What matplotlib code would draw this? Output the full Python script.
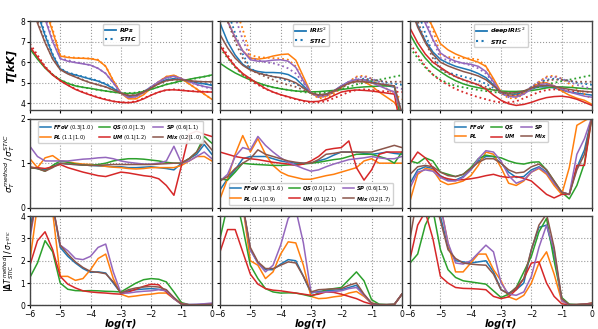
import numpy as np
import matplotlib.pyplot as plt

LOGTAU = np.linspace(-6, 0, 25)
SERIES = ["FFoV", "PL", "QS", "UM", "SP", "Mix"]
COLORS = {"FFoV": "#1f77b4", "PL": "#ff7f0e", "QS": "#2ca02c",
          "UM": "#d62728", "SP": "#9467bd", "Mix": "#8c564b"}
METHODS = ["RPs", "IRIS^2", "deepIRIS^2"]

# temperature [kK], STIC reference (dotted)
T_STIC = {
    "FFoV": [9.8, 8.5, 7.4, 6.4, 5.7, 5.5, 5.4, 5.3, 5.2, 5.1, 4.95, 4.75, 4.5, 4.35, 4.4, 4.55, 4.8, 5.0, 5.15, 5.2, 5.15, 5.1, 5.0, 4.95, 4.9],
    "PL": [11, 9.8, 8.7, 7.6, 6.35, 6.25, 6.22, 6.2, 6.18, 6.12, 5.8, 5.1, 4.5, 4.25, 4.25, 4.45, 4.75, 5.05, 5.3, 5.35, 5.2, 4.95, 4.7, 4.45, 4.2],
    "QS": [6.7, 6.2, 5.75, 5.4, 5.15, 4.98, 4.85, 4.78, 4.72, 4.65, 4.6, 4.55, 4.5, 4.5, 4.52, 4.6, 4.7, 4.8, 4.92, 5.0, 5.08, 5.15, 5.22, 5.3, 5.37],
    "UM": [6.9, 6.35, 5.8, 5.4, 5.1, 4.9, 4.7, 4.55, 4.42, 4.3, 4.2, 4.1, 4.05, 4.05, 4.1, 4.25, 4.4, 4.55, 4.65, 4.68, 4.65, 4.6, 4.58, 4.57, 4.55],
    "SP": [10.5, 9.3, 8.2, 7.1, 6.2, 6.1, 6.0, 5.95, 5.85, 5.7, 5.45, 5.0, 4.5, 4.3, 4.35, 4.55, 4.8, 5.05, 5.25, 5.3, 5.2, 5.05, 4.9, 4.8, 4.7],
    "Mix": [9.2, 8.0, 7.0, 6.2, 5.65, 5.45, 5.3, 5.15, 5.0, 4.9, 4.8, 4.65, 4.5, 4.4, 4.4, 4.55, 4.75, 4.95, 5.1, 5.15, 5.15, 5.1, 5.05, 5.05, 5.05],
}

T_RPS = {
    "FFoV": [9.7, 8.4, 7.3, 6.35, 5.68, 5.48, 5.38, 5.28, 5.18, 5.08, 4.93, 4.73, 4.5, 4.33, 4.38, 4.55, 4.8, 5.0, 5.15, 5.2, 5.15, 5.08, 5.0, 4.95, 4.88],
    "PL": [11, 9.7, 8.6, 7.5, 6.3, 6.23, 6.2, 6.19, 6.17, 6.1, 5.8, 5.1, 4.5, 4.22, 4.22, 4.42, 4.75, 5.05, 5.3, 5.37, 5.2, 4.95, 4.7, 4.45, 4.2],
    "QS": [6.65, 6.15, 5.72, 5.38, 5.14, 4.97, 4.85, 4.78, 4.73, 4.66, 4.6, 4.55, 4.5, 4.48, 4.5, 4.58, 4.68, 4.8, 4.92, 5.0, 5.1, 5.17, 5.24, 5.3, 5.38],
    "UM": [6.75, 6.25, 5.75, 5.38, 5.1, 4.88, 4.68, 4.53, 4.4, 4.28, 4.18, 4.1, 4.05, 4.03, 4.08, 4.22, 4.4, 4.55, 4.65, 4.66, 4.63, 4.6, 4.57, 4.56, 4.55],
    "SP": [10.3, 9.1, 8.1, 7.0, 6.17, 6.05, 5.98, 5.92, 5.86, 5.7, 5.45, 5.0, 4.5, 4.28, 4.32, 4.52, 4.8, 5.05, 5.25, 5.32, 5.2, 5.05, 4.92, 4.82, 4.75],
    "Mix": [9.1, 7.9, 6.95, 6.15, 5.64, 5.43, 5.28, 5.13, 5.0, 4.9, 4.8, 4.65, 4.5, 4.38, 4.4, 4.55, 4.75, 4.95, 5.1, 5.15, 5.15, 5.1, 5.07, 5.05, 5.05],
}

T_IRIS = {
    "FFoV": [7.9, 7.0, 6.35, 5.9, 5.65, 5.55, 5.5, 5.5, 5.48, 5.4, 5.2, 4.85, 4.5, 4.4, 4.45, 4.6, 4.85, 5.05, 5.15, 5.15, 5.05, 4.95, 4.85, 4.8, 3.5],
    "PL": [9.5, 8.0, 7.2, 6.55, 6.2, 6.15, 6.2, 6.3, 6.37, 6.4, 6.1, 5.3, 4.5, 4.3, 4.35, 4.55, 4.8, 5.0, 5.1, 5.05, 4.85, 4.55, 4.3, 4.05, 3.5],
    "QS": [5.95, 5.7, 5.48, 5.3, 5.14, 5.0, 4.88, 4.78, 4.71, 4.65, 4.6, 4.58, 4.56, 4.57, 4.6, 4.63, 4.67, 4.72, 4.77, 4.8, 4.82, 4.84, 4.85, 4.85, 3.0],
    "UM": [6.8, 6.25, 5.8, 5.45, 5.2, 4.95, 4.72, 4.55, 4.42, 4.32, 4.22, 4.13, 4.08, 4.1, 4.2, 4.38, 4.55, 4.62, 4.65, 4.63, 4.6, 4.55, 4.5, 4.45, 2.5],
    "SP": [9.3, 8.0, 7.2, 6.55, 6.12, 6.05, 6.05, 6.1, 6.12, 6.05, 5.75, 5.1, 4.5, 4.35, 4.4, 4.6, 4.85, 5.05, 5.15, 5.15, 5.0, 4.85, 4.7, 4.55, 3.5],
    "Mix": [7.35, 6.7, 6.2, 5.85, 5.62, 5.48, 5.38, 5.3, 5.25, 5.15, 5.0, 4.75, 4.5, 4.42, 4.45, 4.6, 4.8, 4.98, 5.05, 5.05, 5.0, 4.95, 4.9, 4.85, 3.5],
}

T_DEEP = {
    "FFoV": [8.8, 7.8, 7.05, 6.5, 6.14, 5.95, 5.8, 5.7, 5.6, 5.45, 5.25, 4.9, 4.55, 4.45, 4.45, 4.55, 4.7, 4.8, 4.8, 4.75, 4.65, 4.55, 4.5, 4.45, 4.4],
    "PL": [10.5, 9.3, 8.4, 7.7, 6.9, 6.6, 6.4, 6.25, 6.12, 6.0, 5.8, 5.2, 4.55, 4.4, 4.35, 4.5, 4.75, 4.98, 5.0, 4.85, 4.6, 4.4, 4.25, 4.15, 3.95],
    "QS": [7.35, 6.7, 6.2, 5.8, 5.54, 5.3, 5.1, 4.95, 4.84, 4.76, 4.7, 4.65, 4.6, 4.58, 4.58, 4.6, 4.62, 4.68, 4.75, 4.8, 4.8, 4.78, 4.75, 4.72, 4.7],
    "UM": [7.65, 6.95, 6.4, 6.0, 5.75, 5.5, 5.3, 5.15, 5.03, 4.9, 4.7, 4.4, 4.15, 3.98, 3.9, 3.95, 4.05, 4.18, 4.28, 4.33, 4.35, 4.3, 4.2, 4.05, 3.9],
    "SP": [10.0, 8.9, 7.9, 7.1, 6.45, 6.2, 6.05, 5.95, 5.9, 5.8, 5.55, 5.05, 4.5, 4.35, 4.3, 4.45, 4.7, 4.92, 4.95, 4.85, 4.7, 4.55, 4.45, 4.35, 4.3],
    "Mix": [8.7, 7.7, 6.95, 6.4, 6.0, 5.82, 5.68, 5.55, 5.45, 5.33, 5.15, 4.85, 4.55, 4.5, 4.52, 4.6, 4.75, 4.85, 4.87, 4.82, 4.75, 4.68, 4.62, 4.58, 4.55],
}

# sigma ratio
S_RPS = {
    "FFoV": [0.9, 0.88, 0.85, 0.92, 1.0, 0.98, 0.97, 0.96, 0.95, 0.94, 0.93, 0.92, 0.92, 0.9, 0.9, 0.91, 0.92, 0.9, 0.88, 0.85, 1.0, 1.1, 1.2, 1.42, 1.2],
    "PL": [1.1, 0.9, 1.12, 1.17, 1.05, 1.03, 1.0, 0.98, 0.97, 0.95, 0.93, 0.91, 0.9, 0.88, 0.87, 0.88, 0.9, 0.9, 0.9, 0.9, 0.95, 1.05, 1.15, 1.15, 1.05],
    "QS": [0.9, 0.88, 0.82, 0.95, 1.05, 1.02, 0.98, 0.96, 0.95, 0.97, 1.0, 1.05, 1.08, 1.1, 1.1, 1.09, 1.07, 1.05, 1.02, 1.0, 1.0, 1.1, 1.25, 1.6, 1.45],
    "UM": [0.9, 0.9, 0.88, 0.92, 0.97, 0.9, 0.85, 0.8, 0.76, 0.72, 0.7, 0.75, 0.8, 0.78, 0.75, 0.72, 0.7, 0.65, 0.5, 0.28, 0.95, 1.65, 1.72, 1.65, 1.6],
    "SP": [1.38, 1.15, 1.05, 1.05, 1.05, 1.05, 1.07, 1.09, 1.1, 1.12, 1.13, 1.1, 1.05, 1.02, 1.0, 0.98, 0.98, 1.0, 1.05, 1.38, 1.0, 1.05, 1.15, 1.25, 1.1],
    "Mix": [0.92, 0.88, 0.82, 0.9, 1.0, 0.98, 0.97, 0.96, 0.95, 0.95, 0.96, 0.97, 0.97, 0.97, 0.97, 0.97, 0.97, 0.98, 0.99, 1.0, 1.0, 1.1, 1.25, 1.5, 1.3],
}
S_IRIS = {
    "FFoV": [0.4, 0.65, 0.85, 1.1, 1.15, 1.15, 1.15, 1.1, 1.05, 1.02, 1.0, 1.0, 1.0, 1.05, 1.1, 1.18, 1.25, 1.25, 1.25, 1.22, 1.2, 1.22, 1.25, 1.22, 1.2],
    "PL": [0.2, 0.65, 1.2, 1.62, 1.25, 1.55, 1.2, 0.95, 0.8, 0.72, 0.68, 0.64, 0.64, 0.68, 0.72, 0.75, 0.8, 0.85, 0.9, 1.05, 1.1, 1.0, 1.0, 1.0, 1.0],
    "QS": [0.65, 0.62, 0.8, 1.0, 0.98, 0.97, 0.96, 0.95, 0.95, 0.96, 0.97, 0.98, 1.0, 1.02, 1.05, 1.08, 1.1, 1.15, 1.2, 1.2, 1.2, 1.15, 1.1, 1.0, 1.25],
    "UM": [1.25, 1.2, 1.15, 1.12, 1.1, 1.08, 1.05, 1.02, 1.0, 0.98, 0.95, 0.98, 1.05, 1.15, 1.3, 1.33, 1.35, 1.5, 0.9, 0.62, 0.85, 1.2, 1.25, 1.25, 1.25],
    "SP": [0.6, 0.75, 1.15, 1.35, 1.3, 1.6, 1.4, 1.25, 1.12, 1.02, 0.95, 0.88, 0.82, 0.85, 0.92, 0.98, 1.03, 1.08, 1.1, 1.12, 1.15, 1.12, 1.1, 1.1, 1.15],
    "Mix": [0.6, 0.7, 0.88, 1.0, 1.1, 1.3, 1.2, 1.15, 1.1, 1.05, 1.02, 1.0, 1.0, 1.08, 1.2, 1.22, 1.25, 1.25, 1.25, 1.25, 1.25, 1.3, 1.35, 1.4, 1.35],
}
S_DEEP = {
    "FFoV": [0.55, 0.85, 0.92, 0.88, 0.72, 0.62, 0.62, 0.7, 0.85, 1.05, 1.15, 1.15, 1.0, 0.8, 0.68, 0.7, 0.85, 0.92, 0.8, 0.55, 0.35, 0.3, 0.9, 1.3, 2.05],
    "PL": [0.16, 0.75, 0.88, 0.85, 0.6, 0.52, 0.55, 0.6, 0.72, 0.95, 1.25, 1.2, 0.9, 0.55, 0.5, 0.6, 0.8, 0.88, 0.75, 0.5, 0.3, 0.9, 1.85, 1.95, 2.05],
    "QS": [1.05, 1.0, 1.12, 1.05, 0.8, 0.75, 0.7, 0.75, 0.9, 1.1, 1.18, 1.15, 1.12, 1.05, 1.0, 0.98, 1.02, 1.03, 0.85, 0.6, 0.35, 0.2, 0.5, 1.0, 2.05],
    "UM": [1.0, 1.25, 1.12, 0.9, 0.7, 0.65, 0.62, 0.63, 0.65, 0.68, 0.72, 0.75, 0.7, 0.68, 0.7, 0.66, 0.6, 0.45, 0.3, 0.22, 0.3, 0.3, 0.95, 0.95, 2.05],
    "SP": [0.45, 0.8, 0.85, 0.82, 0.68, 0.6, 0.6, 0.68, 0.85, 1.1, 1.28, 1.25, 1.05, 0.72, 0.55, 0.62, 0.8, 0.9, 0.78, 0.55, 0.35, 0.3, 1.2, 1.55, 2.05],
    "Mix": [0.75, 0.92, 0.95, 0.92, 0.8, 0.72, 0.7, 0.75, 0.88, 1.02, 1.1, 1.1, 1.0, 0.85, 0.78, 0.8, 0.92, 0.98, 0.85, 0.6, 0.35, 0.3, 0.85, 1.2, 2.05],
}

# |dT| / sigma
D_RPS = {
    "FFoV": [3.5, 5, 5, 4.5, 2.6, 2.2, 1.9, 1.65, 1.48, 1.5, 1.45, 1.0, 0.55, 0.65, 0.7, 0.73, 0.75, 0.72, 0.65, 0.3, 0.05, 0.02, 0.02, 0.03, 0.05],
    "PL": [2.0, 4.5, 5, 4.2, 1.3, 1.3, 1.12, 1.2, 1.6, 2.1, 2.3, 1.2, 0.5, 0.38, 0.42, 0.47, 0.5, 0.55, 0.55, 0.3, 0.05, 0.02, 0.02, 0.03, 0.05],
    "QS": [1.25, 1.9, 2.9, 2.4, 1.0, 0.72, 0.66, 0.65, 0.66, 0.65, 0.63, 0.62, 0.6, 0.8, 1.0, 1.15, 1.2, 1.17, 1.05, 0.6, 0.12, 0.03, 0.03, 0.04, 0.05],
    "UM": [1.8, 2.9, 3.3, 2.5, 1.3, 0.95, 0.78, 0.65, 0.6, 0.57, 0.55, 0.52, 0.5, 0.6, 0.72, 0.85, 0.95, 0.92, 0.6, 0.3, 0.08, 0.02, 0.02, 0.03, 0.05],
    "SP": [3.0, 5, 5, 4.5, 2.7, 2.45, 2.1, 2.05, 2.2, 2.6, 2.75, 1.5, 0.55, 0.55, 0.6, 0.63, 0.65, 0.7, 0.65, 0.3, 0.05, 0.04, 0.05, 0.07, 0.1],
    "Mix": [3.2, 5, 5, 4.5, 2.7, 2.3, 1.95, 1.7, 1.52, 1.48, 1.42, 1.05, 0.55, 0.7, 0.78, 0.82, 0.85, 0.82, 0.7, 0.35, 0.05, 0.02, 0.02, 0.03, 0.05],
}
D_IRIS = {
    "FFoV": [4.5, 5, 5, 4.5, 2.5, 1.9, 1.6, 1.6, 1.85, 2.05, 2.0, 1.3, 0.55, 0.62, 0.65, 0.68, 0.7, 0.8, 0.9, 0.45, 0.08, 0.03, 0.03, 0.04, 0.5],
    "PL": [4.5, 5, 5, 4.5, 2.0, 1.8, 1.2, 1.5, 2.3, 2.85, 2.8, 1.8, 0.4, 0.3, 0.32, 0.38, 0.42, 0.55, 0.62, 0.4, 0.1, 0.03, 0.03, 0.04, 0.5],
    "QS": [3.0, 4.5, 5, 3.5, 1.8, 1.2, 0.75, 0.6, 0.55, 0.56, 0.55, 0.48, 0.4, 0.55, 0.7, 0.75, 0.8, 1.15, 1.5, 1.1, 0.25, 0.05, 0.03, 0.04, 0.5],
    "UM": [2.4, 3.4, 3.4, 2.4, 1.4, 0.95, 0.75, 0.68, 0.65, 0.6, 0.55, 0.5, 0.45, 0.5, 0.6, 0.58, 0.5, 0.4, 0.3, 0.15, 0.05, 0.02, 0.02, 0.03, 0.5],
    "SP": [4.5, 5, 5, 4.5, 2.5, 1.9, 1.5, 1.8, 2.7, 3.9, 4.3, 2.8, 0.6, 0.58, 0.6, 0.62, 0.65, 0.75, 0.8, 0.45, 0.08, 0.03, 0.03, 0.04, 0.5],
    "Mix": [4.5, 5, 5, 4.5, 2.6, 1.95, 1.65, 1.65, 1.8, 1.95, 1.9, 1.3, 0.6, 0.7, 0.72, 0.74, 0.75, 0.9, 1.0, 0.5, 0.1, 0.03, 0.03, 0.04, 0.5],
}
D_DEEP = {
    "FFoV": [4.5, 5, 5, 5, 4.0, 2.6, 2.0, 1.95, 1.9, 1.95, 2.0, 1.5, 0.7, 0.55, 0.7, 1.0, 2.5, 3.5, 3.6, 2.3, 0.3, 0.03, 0.03, 0.04, 0.05],
    "PL": [4.5, 5, 5, 5, 4.5, 2.8, 1.5, 1.5, 1.9, 2.3, 2.3, 1.6, 1.1, 0.38, 0.25, 0.45, 1.0, 1.9, 2.4, 1.4, 0.2, 0.03, 0.03, 0.04, 0.05],
    "QS": [1.9, 2.3, 3.6, 4.3, 2.5, 1.6, 1.25, 1.1, 1.05, 1.0, 0.95, 0.65, 0.35, 0.5, 0.8, 1.5, 2.2, 3.3, 3.9, 2.0, 0.35, 0.05, 0.03, 0.05, 0.1],
    "UM": [2.1, 3.6, 4.2, 3.0, 1.3, 1.0, 0.8, 0.76, 0.75, 0.73, 0.7, 0.4, 0.3, 0.38, 0.7, 1.2, 1.9, 1.95, 1.0, 0.4, 0.07, 0.02, 0.03, 0.05, 0.1],
    "SP": [4.5, 5, 5, 5, 4.5, 2.8, 1.9, 1.85, 2.0, 2.35, 2.7, 2.4, 1.0, 0.5, 0.45, 0.6, 1.3, 2.6, 3.6, 2.5, 0.2, 0.03, 0.03, 0.04, 0.05],
    "Mix": [3.0, 5, 5, 5, 3.8, 2.5, 2.1, 1.9, 1.85, 1.82, 1.8, 1.4, 0.7, 0.5, 0.8, 1.2, 2.5, 3.6, 4.1, 2.6, 0.3, 0.03, 0.03, 0.04, 0.05],
}

NUMBERS_RPS = {"FFoV": "(0.3|1.0)", "PL": "(1.1|1.0)", "QS": "(0.0|1.3)",
               "UM": "(0.1|1.2)", "SP": "(0.6|1.1)", "Mix": "(0.2|1.0)"}
NUMBERS_IRIS = {"FFoV": "(0.3|1.6)", "PL": "(1.1|0.9)", "QS": "(0.0|1.2)",
                "UM": "(0.1|2.1)", "SP": "(0.6|1.5)", "Mix": "(0.2|1.7)"}

T_METHOD = [T_RPS, T_IRIS, T_DEEP]
S_METHOD = [S_RPS, S_IRIS, S_DEEP]
D_METHOD = [D_RPS, D_IRIS, D_DEEP]
NUMBERS = [NUMBERS_RPS, NUMBERS_IRIS, None]

plt.rcParams["font.family"] = "DejaVu Sans"
plt.rcParams["mathtext.fontset"] = "dejavusans"

fig, axes = plt.subplots(3, 3, figsize=(5.98, 3.29), dpi=100, sharex=True, sharey="row")
fig.subplots_adjust(left=0.05, right=0.99, top=0.936, bottom=0.072, wspace=0.045, hspace=0.095)

lw = 1.1
for j in range(3):
    ax = axes[0, j]
    for s in SERIES:
        ax.plot(LOGTAU, T_METHOD[j][s], color=COLORS[s], lw=lw)
        ax.plot(LOGTAU, T_STIC[s], color=COLORS[s], lw=1.3, ls=":")
    h1, = ax.plot([], [], color=COLORS["FFoV"], lw=1.3)
    h2, = ax.plot([], [], color=COLORS["FFoV"], lw=1.5, ls=":")
    ax.legend([h1, h2], [r"$\boldsymbol{%s}$" % METHODS[j], r"$\boldsymbol{STIC}$"],
              loc="upper center", fontsize=4.5, handlelength=1.8, handletextpad=0.5,
              borderpad=0.3, labelspacing=0.2, framealpha=0.9)
    ax.set_ylim(3.67, 8)

    ax = axes[1, j]
    for s in SERIES:
        ax.plot(LOGTAU, S_METHOD[j][s], color=COLORS[s], lw=lw)
    if NUMBERS[j] is not None:
        labels = [r"$\boldsymbol{%s}$ %s" % (s, NUMBERS[j][s]) for s in SERIES]
    else:
        labels = [r"$\boldsymbol{%s}$" % s for s in SERIES]
    loc = "lower center" if j == 1 else "upper center"
    ax.legend(ax.get_lines(), labels, loc=loc, ncol=3, fontsize=3.8,
              handlelength=2.0, handletextpad=0.5, columnspacing=1.0,
              borderpad=0.3, labelspacing=0.2, framealpha=0.9)
    ax.set_ylim(0, 2)

    ax = axes[2, j]
    for s in SERIES:
        ax.plot(LOGTAU, D_METHOD[j][s], color=COLORS[s], lw=lw)
    ax.set_ylim(0, 4)
    ax.set_xlabel("log(τ)", fontsize=7, fontweight="bold", fontstyle="italic", labelpad=0)

for ax in axes.flat:
    ax.set_xlim(-6, 0)
    ax.set_xticks([-6, -5, -4, -3, -2, -1, 0])
    ax.grid(True, ls=":", color="#999999", lw=0.8)
    ax.tick_params(labelsize=5.5, length=2.5, pad=1)
    for sp in ax.spines.values():
        sp.set_color("#444444")
        sp.set_linewidth(1.0)

axes[0, 0].set_yticks([4, 5, 6, 7, 8])
axes[1, 0].set_yticks([0, 1, 2])
axes[2, 0].set_yticks([0, 1, 2, 3, 4])
axes[0, 0].set_ylabel("T[kK]", fontsize=8, fontweight="bold", fontstyle="italic", labelpad=3)
axes[1, 0].set_ylabel(r"$\sigma_T^{method}\,/\,\sigma_T^{STIC}$", fontsize=6.5, labelpad=2)
axes[2, 0].set_ylabel(r"$\boldsymbol{|\Delta T^{method}_{STIC}|\,/\,\sigma_{T^{STIC}}}$",
                      fontsize=5.5, labelpad=3)

fig.savefig("out.png", dpi=100)
